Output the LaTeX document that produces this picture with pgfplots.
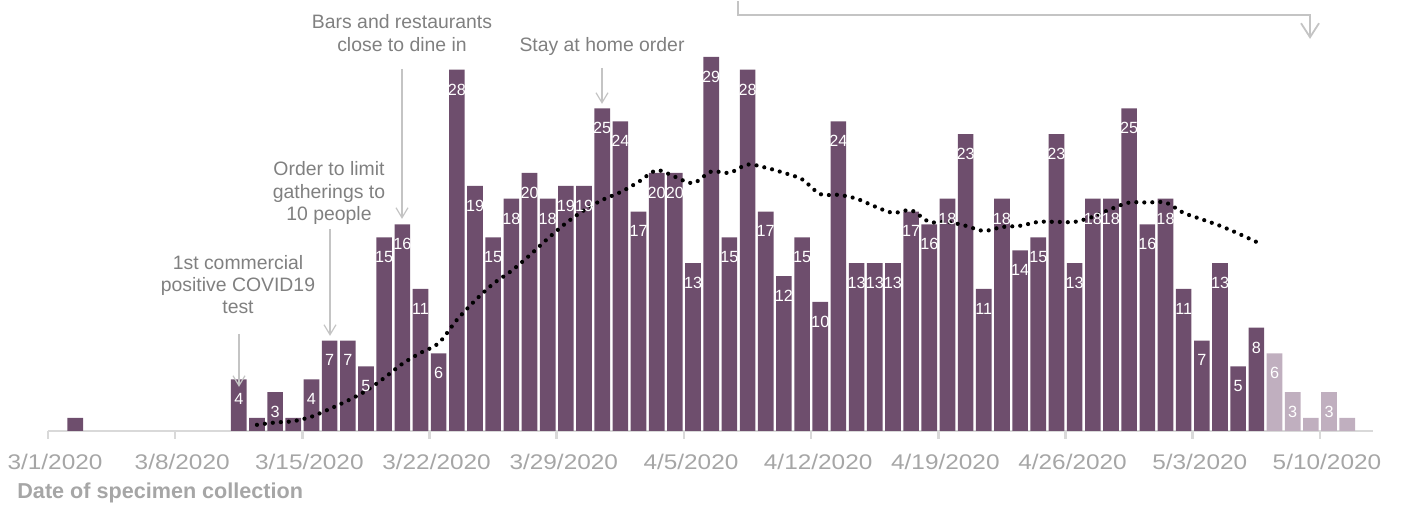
\documentclass[border=0pt]{standalone}
\usepackage{pgfplots}
\pgfplotsset{compat=1.18}
\usepackage{pgfplotstable}
\usepackage{fontspec}
\setmainfont{Liberation Sans}
\newfontfamily\tickfont[FakeStretch=1.15]{Liberation Sans}
\usetikzlibrary{arrows.meta}
\definecolor{barc}{HTML}{6E4E6D}
\definecolor{barl}{HTML}{C0AFBF}
\definecolor{axc}{HTML}{D9D9D9}
\definecolor{tickc}{HTML}{A6A6A6}
\definecolor{annc}{HTML}{808080}
\definecolor{arrc}{HTML}{C4C4C4}

\pgfplotstableread{
x y lab
1.5 1 {}
10.5 4 4
11.5 1 {}
12.5 3 3
13.5 1 {}
14.5 4 4
15.5 7 7
16.5 7 7
17.5 5 5
18.5 15 15
19.5 16 16
20.5 11 11
21.5 6 6
22.5 28 28
23.5 19 19
24.5 15 15
25.5 18 18
26.5 20 20
27.5 18 18
28.5 19 19
29.5 19 19
30.5 25 25
31.5 24 24
32.5 17 17
33.5 20 20
34.5 20 20
35.5 13 13
36.5 29 29
37.5 15 15
38.5 28 28
39.5 17 17
40.5 12 12
41.5 15 15
42.5 10 10
43.5 24 24
44.5 13 13
45.5 13 13
46.5 13 13
47.5 17 17
48.5 16 16
49.5 18 18
50.5 23 23
51.5 11 11
52.5 18 18
53.5 14 14
54.5 15 15
55.5 23 23
56.5 13 13
57.5 18 18
58.5 18 18
59.5 25 25
60.5 16 16
61.5 18 18
62.5 11 11
63.5 7 7
64.5 13 13
65.5 5 5
66.5 8 8
}\darkdata

\pgfplotstableread{
x y lab
67.5 6 6
68.5 3 3
69.5 1 {}
70.5 3 3
71.5 1 {}
}\lightdata

\pgfplotstableread{
x y
11.5 0.47
12.5 0.65
13.5 0.75
14.5 1.1
15.5 1.7
16.5 2.35
17.5 3.1
18.5 4.1
19.5 5.2
20.5 6.05
21.5 6.8
22.5 8.6
23.5 10.1
24.5 11.4
25.5 12.4
26.5 13.6
27.5 14.9
28.5 16.1
29.5 17.1
30.5 17.9
31.5 18.5
32.5 19.3
33.5 20.2
34.5 19.7
35.5 19.2
36.5 20.1
37.5 20.0
38.5 20.65
39.5 20.4
40.5 20.0
41.5 19.5
42.5 18.35
43.5 18.3
44.5 18.0
45.5 17.4
46.5 16.9
47.5 17.1
48.5 16.2
49.5 16.2
50.5 15.9
51.5 15.5
52.5 15.8
53.5 15.9
54.5 16.2
55.5 16.2
56.5 16.2
57.5 16.6
58.5 17.2
59.5 17.7
60.5 17.7
61.5 17.7
62.5 16.9
63.5 16.4
64.5 15.9
65.5 15.3
66.5 14.65
}\avgdata

\tikzset{px/.style={x=0.5pt,y=-0.5pt,shift={(-24pt,215pt)}}}

\begin{document}
\begin{tikzpicture}
\begin{scope}[px]
\useasboundingbox (0,0) rectangle (1401,506);
\end{scope}
\begin{axis}[
  at={(0pt,0pt)}, anchor=south west,
  scale only axis, width=662.5pt, height=215pt,
  xmin=0, xmax=72.92, ymin=0, ymax=33.33,
  clip=false,
  axis x line=bottom, axis y line=none,
  x axis line style={axc, line width=1.3pt, -},
  xtick={0,7,...,70},
  xticklabels={3/1/2020,3/8/2020,3/15/2020,3/22/2020,3/29/2020,4/5/2020,4/12/2020,4/19/2020,4/26/2020,5/3/2020,5/10/2020},
  tick align=outside, major tick length=4pt,
  tick style={axc, line width=1.3pt},
  ytick=\empty,
  xticklabel style={font=\tickfont\fontsize{10.6}{12}\selectfont, text=tickc, anchor=base, xshift=3.5pt, yshift=-15.5pt, inner sep=0pt},
]
\addplot[ybar, bar width=0.86, bar shift=0pt, fill=barc, draw=none,
  nodes near coords, point meta=explicit symbolic,
  every node near coord/.style={anchor=center, yshift=-9.9pt, inner sep=0pt, text=white, font=\fontsize{8.1}{9}\selectfont}]
  table[x=x, y=y, meta=lab]{\darkdata};
\addplot[ybar, bar width=0.86, bar shift=0pt, fill=barl, draw=none,
  nodes near coords, point meta=explicit symbolic,
  every node near coord/.style={anchor=center, yshift=-9.9pt, inner sep=0pt, text=white, font=\fontsize{8.1}{9}\selectfont}]
  table[x=x, y=y, meta=lab]{\lightdata};
\addplot[black, line width=2.1pt, dash pattern=on 0pt off 4pt, line cap=round, smooth, tension=0.5, mark=none]
  table[x=x, y=y]{\avgdata};
\end{axis}
\begin{scope}[px]
\node[anchor=base west, inner sep=0pt, text=tickc, font=\bfseries\fontsize{10.8}{12}\selectfont] at (17,498) {Date of specimen collection};
\begin{scope}[text=annc, font=\fontsize{9.7}{11.25}\selectfont]
\node[anchor=base, inner sep=0pt] at (238,269) {1st commercial};
\node[anchor=base, inner sep=0pt] at (238,291) {positive COVID19};
\node[anchor=base, inner sep=0pt] at (238,313) {test};
\node[anchor=base, inner sep=0pt] at (329,175) {Order to limit};
\node[anchor=base, inner sep=0pt] at (329,198) {gatherings to};
\node[anchor=base, inner sep=0pt] at (329,220) {10 people};
\node[anchor=base, inner sep=0pt] at (402,28) {Bars and restaurants};
\node[anchor=base, inner sep=0pt] at (402,51) {close to dine in};
\node[anchor=base, inner sep=0pt] at (602,51) {Stay at home order};
\end{scope}
\begin{scope}[arrc, line width=0.6pt]
\draw[-{Straight Barb[length=5pt,width=6pt]}] (239,333) -- (239,386);
\draw[-{Straight Barb[length=5pt,width=6pt]}] (330,228) -- (330,335);
\draw[-{Straight Barb[length=5pt,width=6pt]}] (402,68) -- (402,218);
\draw[-{Straight Barb[length=5pt,width=6pt]}] (602,67) -- (602,103);
\draw[line width=0.9pt, -{Straight Barb[length=7pt,width=9pt]}] (738,0) -- (738,14) -- (1310,14) -- (1310,38);
\end{scope}
\end{scope}
\end{tikzpicture}
\end{document}
